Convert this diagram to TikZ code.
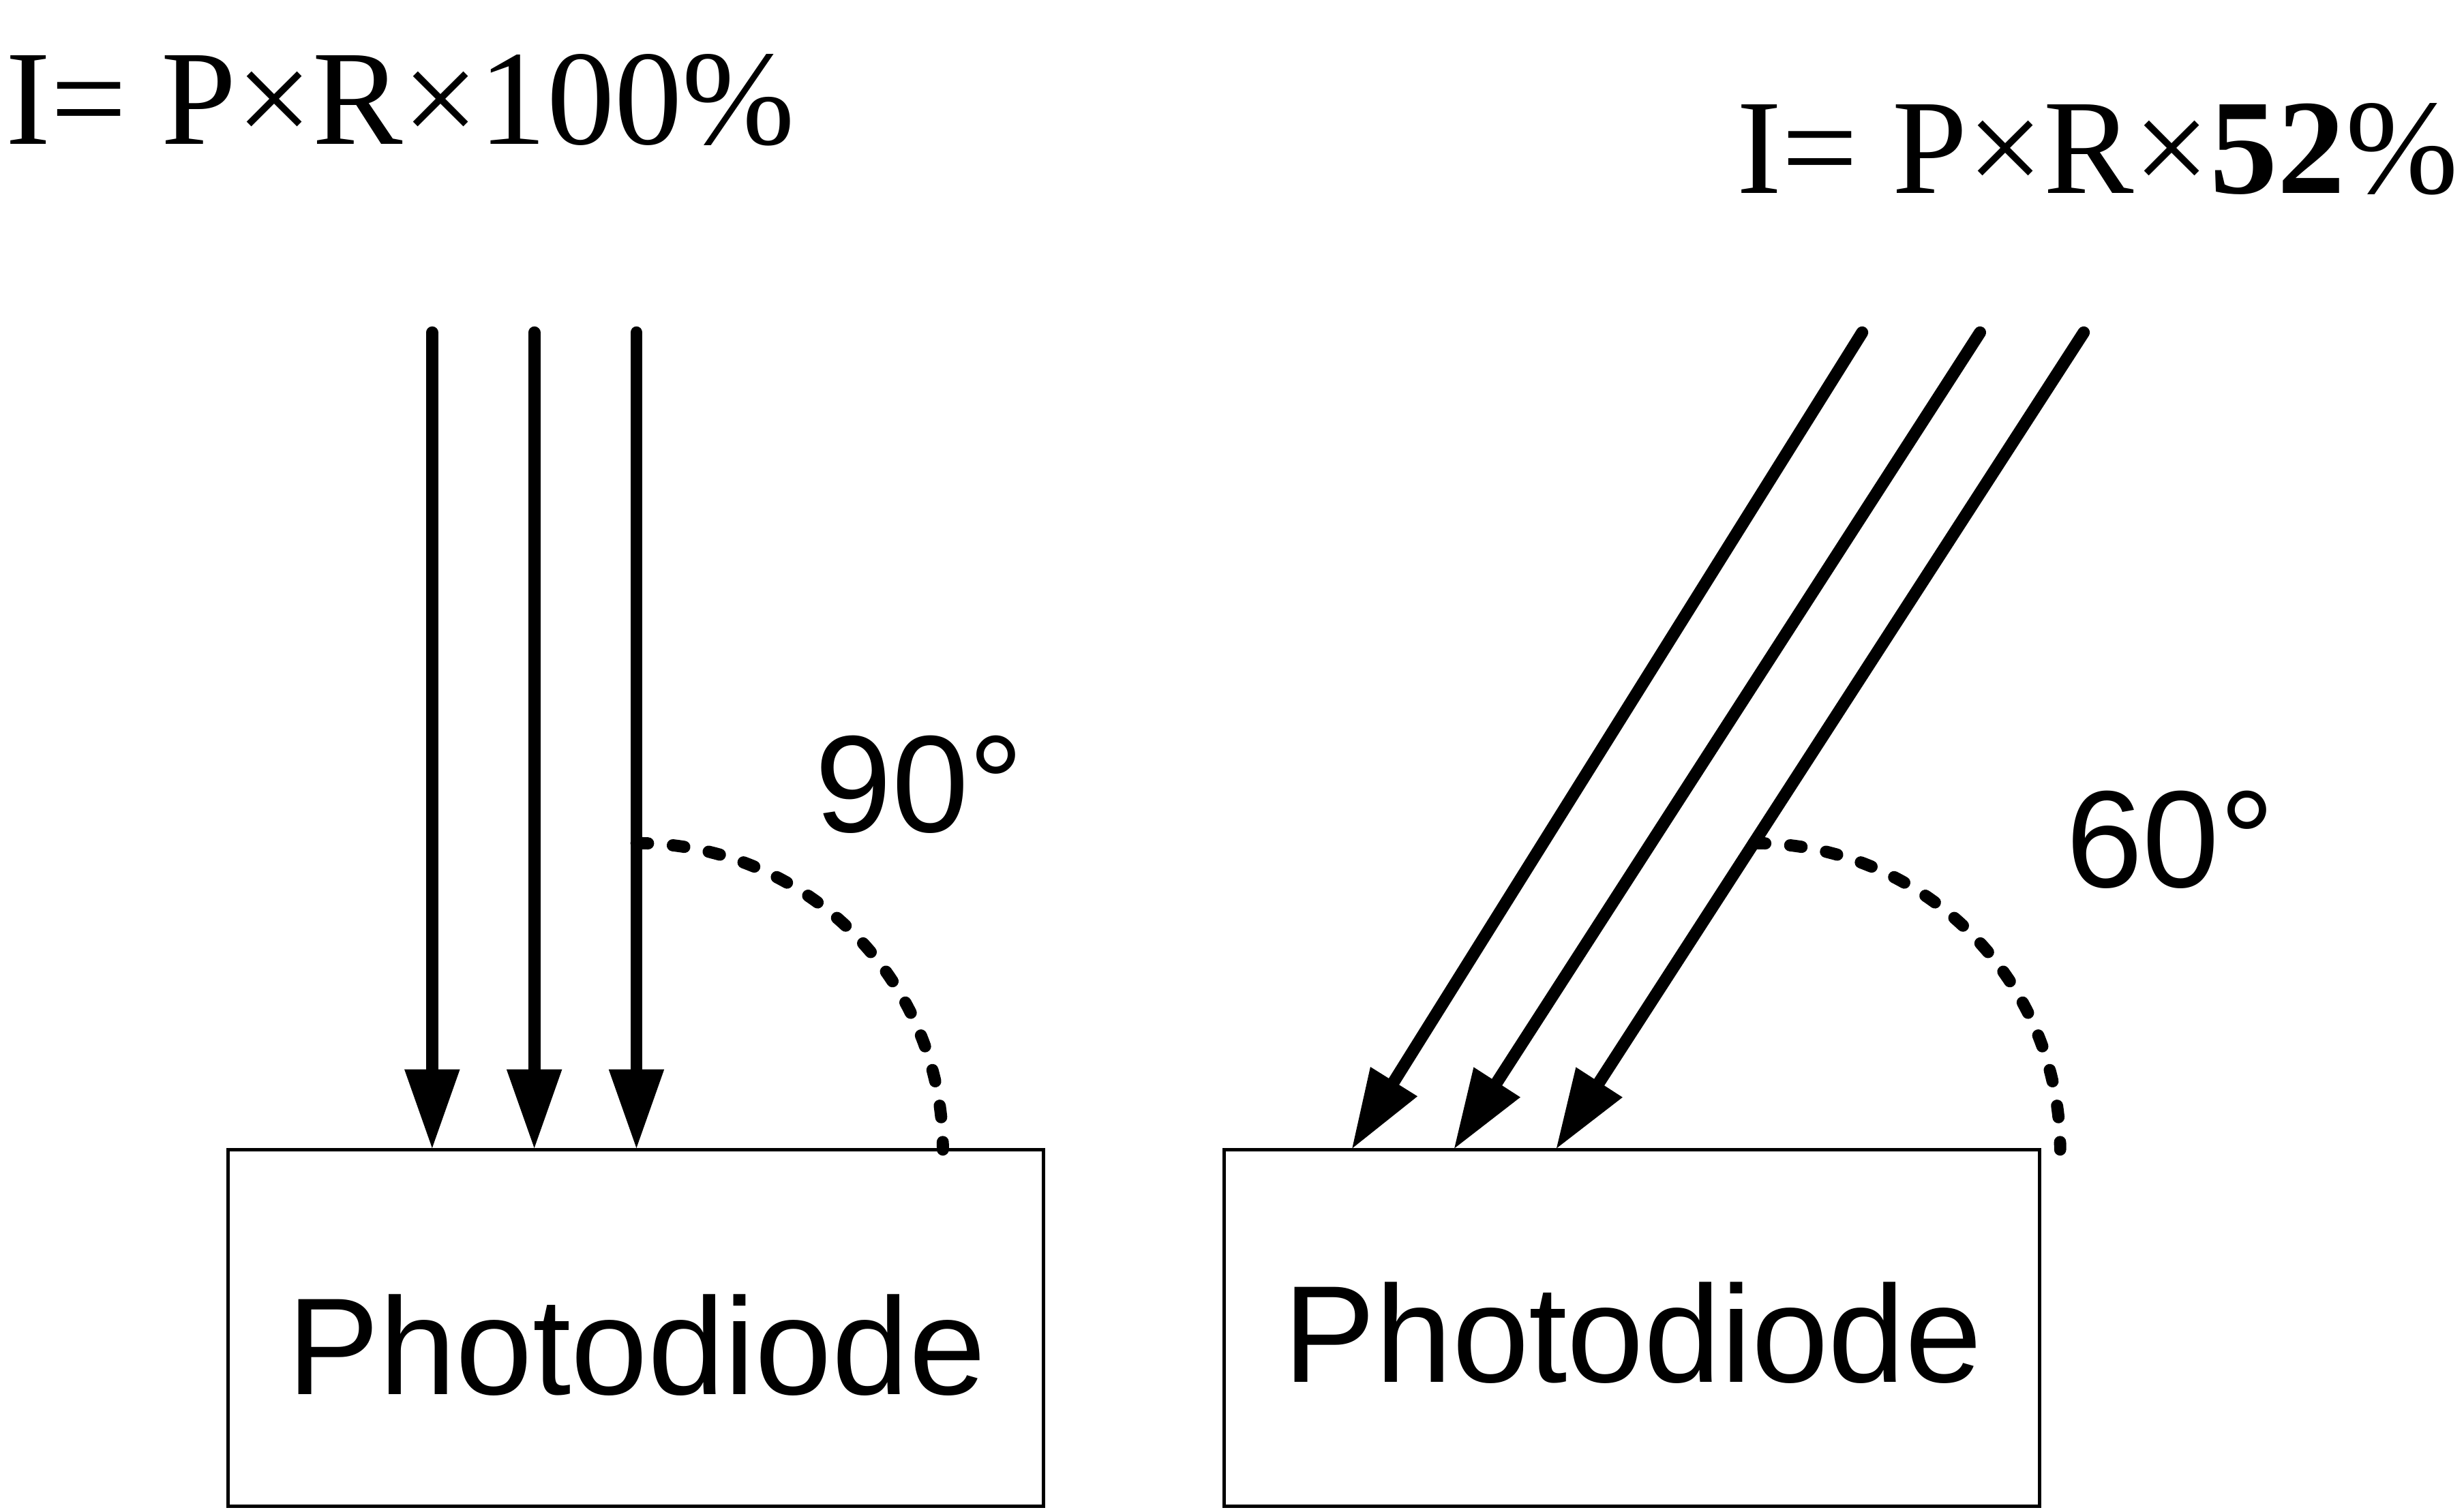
\documentclass[tikz,border=0pt]{standalone}
\usepackage{fontspec}
\setmainfont{Liberation Serif}
\setsansfont{Liberation Sans}
\usetikzlibrary{arrows.meta}
\begin{document}
\begin{tikzpicture}[
    box/.style={draw, line width=0.65pt, minimum width=5.19cm, minimum height=2.27cm, inner sep=0pt, outer sep=0pt},
    ray/.style={line width=2.2pt, line cap=round, -{Triangle[length=0.51cm, width=0.33cm]}},
    anglearc/.style={line width=2.2pt, line cap=round, dash pattern=on 2.1pt off 4.5pt},
    pdtext/.style={font=\sffamily\fontsize{25}{30}\selectfont, inner sep=0pt, anchor=base},
    deg/.style={font=\sffamily\fontsize{25}{30}\selectfont, inner sep=0pt, anchor=base west},
    formula/.style={font=\fontsize{24.5}{29}\selectfont, inner sep=0pt, anchor=base west}
  ]
  \useasboundingbox (0,0) rectangle (15.68,9.606);
  \node[box] (boxL) at (4.045,1.155) {};
  \node[box] (boxR) at (10.385,1.155) {};
  \node[pdtext] (pdL) at (4.05,0.73) {Photodiode};
  \node[pdtext] (pdR) at (10.39,0.81) {Photodiode};
  \node[formula] (f1) at (0.03,8.69) {I= P×R×100\%};
  \node[formula] (f2) at (11.045,8.377) {I= P×R×\textbf{52}\%};
  \node[deg] (d1) at (5.18,4.31) {90°};
  \node[deg] (d2) at (13.14,3.96) {60°};
  \coordinate (s1) at (2.75,7.49);
  \coordinate (s2) at (3.40,7.49);
  \coordinate (s3) at (4.05,7.49);
  \coordinate (e1) at (2.75,2.29);
  \coordinate (e2) at (3.40,2.29);
  \coordinate (e3) at (4.05,2.29);
  \coordinate (s4) at (11.85,7.49);
  \coordinate (s5) at (12.60,7.49);
  \coordinate (s6) at (13.26,7.49);
  \coordinate (e4) at (8.60,2.29);
  \coordinate (e5) at (9.25,2.29);
  \coordinate (e6) at (9.90,2.29);
  \coordinate (c1) at (4.05,4.24);
  \coordinate (c2) at (11.16,4.24);
  \begin{scope}[ray]
    \draw (s1) to (e1);
    \draw (s2) to (e2);
    \draw (s3) to (e3);
    \draw (s4) to (e4);
    \draw (s5) to (e5);
    \draw (s6) to (e6);
  \end{scope}
  \draw[anglearc] (c1) arc[start angle=90, end angle=0, radius=1.95];
  \draw[anglearc] (c2) arc[start angle=90, end angle=0, radius=1.95];
\end{tikzpicture}
\end{document}
